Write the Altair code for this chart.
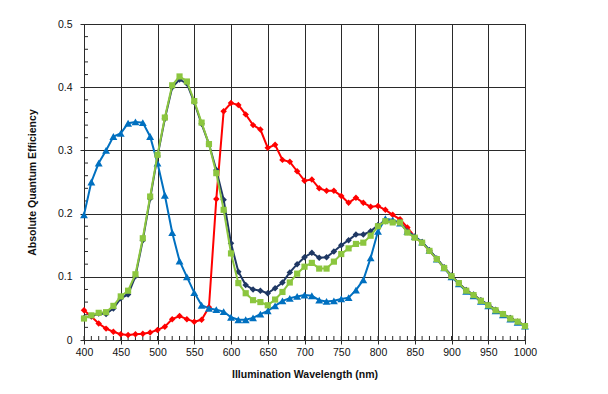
import altair as alt
import pandas as pd

wavelength = list(range(400, 1001, 10))

red = [0.047, 0.037, 0.026, 0.018, 0.013, 0.009, 0.008, 0.009, 0.010, 0.012,
       0.016, 0.021, 0.033, 0.038, 0.033, 0.029, 0.032, 0.052, 0.223, 0.362,
       0.375, 0.372, 0.357, 0.340, 0.333, 0.304, 0.309, 0.285, 0.282, 0.267,
       0.252, 0.254, 0.240, 0.236, 0.236, 0.228, 0.217, 0.225, 0.217, 0.211,
       0.212, 0.206, 0.198, 0.191, 0.178, 0.163, 0.154, 0.141, 0.128, 0.114,
       0.101, 0.090, 0.078, 0.071, 0.062, 0.055, 0.047, 0.041, 0.034, 0.029,
       0.022]

navy = [0.035, 0.038, 0.042, 0.041, 0.050, 0.066, 0.072, 0.101, 0.158, 0.224,
        0.291, 0.350, 0.400, 0.412, 0.406, 0.376, 0.342, 0.310, 0.269, 0.222,
        0.153, 0.108, 0.087, 0.080, 0.078, 0.074, 0.082, 0.091, 0.107, 0.120,
        0.131, 0.138, 0.130, 0.131, 0.140, 0.150, 0.158, 0.167, 0.167, 0.172,
        0.182, 0.188, 0.187, 0.187, 0.171, 0.163, 0.155, 0.142, 0.129, 0.115,
        0.102, 0.090, 0.079, 0.072, 0.063, 0.056, 0.048, 0.041, 0.035, 0.029,
        0.023]

green = [0.034, 0.039, 0.043, 0.044, 0.054, 0.069, 0.078, 0.104, 0.161, 0.227,
         0.293, 0.352, 0.403, 0.417, 0.409, 0.378, 0.344, 0.310, 0.264, 0.206,
         0.137, 0.090, 0.074, 0.063, 0.060, 0.055, 0.064, 0.076, 0.091, 0.105,
         0.116, 0.122, 0.113, 0.113, 0.124, 0.136, 0.145, 0.152, 0.154, 0.165,
         0.180, 0.188, 0.186, 0.186, 0.170, 0.162, 0.154, 0.141, 0.128, 0.114,
         0.101, 0.090, 0.078, 0.071, 0.062, 0.055, 0.047, 0.041, 0.034, 0.029,
         0.022]

blue = [0.198, 0.250, 0.280, 0.300, 0.322, 0.327, 0.343, 0.345, 0.344, 0.322,
        0.280, 0.229, 0.170, 0.125, 0.100, 0.075, 0.055, 0.050, 0.048, 0.045,
        0.036, 0.032, 0.032, 0.035, 0.041, 0.046, 0.054, 0.062, 0.066, 0.069,
        0.071, 0.070, 0.063, 0.061, 0.062, 0.065, 0.067, 0.079, 0.095, 0.130,
        0.172, 0.192, 0.190, 0.185, 0.172, 0.164, 0.155, 0.142, 0.128, 0.114,
        0.100, 0.089, 0.077, 0.070, 0.061, 0.054, 0.046, 0.040, 0.033, 0.028,
        0.022]

x_ticks = list(range(400, 1001, 50))
y_ticks = [0, 0.1, 0.2, 0.3, 0.4, 0.5]
x_minor = list(range(400, 1001, 10))
y_minor = [0.02, 0.04, 0.06, 0.08, 0.12, 0.14, 0.16, 0.18, 0.22, 0.24, 0.26,
           0.28, 0.32, 0.34, 0.36, 0.38, 0.42, 0.44, 0.46, 0.48]

W, H = 441, 316
FONT = "Liberation Sans"
GRID = "#2a2a2a"

xscale = alt.Scale(domain=[400, 1000], nice=False, zero=False)
yscale = alt.Scale(domain=[0, 0.5], nice=False)

xaxis = alt.Axis(values=x_ticks, grid=True, gridColor=GRID, gridOpacity=1,
                 tickColor=GRID, tickSize=4, domainColor=GRID,
                 labelFont=FONT, labelFontSize=10.5, labelColor="#111",
                 labelPadding=3, labelFlush=False, format="d",
                 titleFont=FONT, titleFontSize=10.5, titleFontWeight="bold",
                 titleColor="#111", titlePadding=12)
yaxis = alt.Axis(values=y_ticks, grid=True, gridColor=GRID, gridOpacity=1,
                 tickColor=GRID, tickSize=4, domainColor=GRID,
                 labelFont=FONT, labelFontSize=10.5, labelColor="#111",
                 labelPadding=8, labelFlush=False, format="~g",
                 titleFont=FONT, titleFontSize=10.5, titleFontWeight="bold",
                 titleColor="#111", titlePadding=20)

XT = "Illumination Wavelength (nm)"
YT = "Absolute Quantum Efficiency"


def X():
    return alt.X("wl:Q", scale=xscale, axis=xaxis, title=XT)


def Y():
    return alt.Y("qe:Q", scale=yscale, axis=yaxis, title=YT)


series = [
    ("red", red, "#FF0000", "diamond", 42),
    ("blue", blue, "#0070C0", "triangle-up", 62),
    ("navy", navy, "#1F3864", "diamond", 42),
    ("green", green, "#8CC63F", "square", 38),
]

layers = []
# minor ticks pointing into the plot
layers.append(
    alt.Chart(pd.DataFrame({"wl": x_minor})).mark_rule(color=GRID, strokeWidth=1).encode(
        x=X(), y=alt.value(H), y2=alt.value(H - 4),
    )
)
layers.append(
    alt.Chart(pd.DataFrame({"qe": y_minor})).mark_rule(color=GRID, strokeWidth=1).encode(
        y=Y(), x=alt.value(0), x2=alt.value(4),
    )
)

for name, vals, col, shp, sz in series:
    df = pd.DataFrame({"wl": wavelength, "qe": vals})
    layers.append(
        alt.Chart(df).mark_line(color=col, strokeWidth=2).encode(x=X(), y=Y())
    )
    layers.append(
        alt.Chart(df).mark_point(color=col, fill=col, filled=True, shape=shp,
                                 size=sz, opacity=1).encode(x=X(), y=Y())
    )

chart = alt.layer(*layers).properties(
    width=W, height=H,
    autosize=alt.AutoSizeParams(type="none"),
    padding={"left": 76, "top": 16, "right": 70, "bottom": 40},
    background="white",
).configure_view(stroke=GRID, strokeWidth=1)

chart.save("out.html", embed_options={"renderer": "svg", "actions": False})
